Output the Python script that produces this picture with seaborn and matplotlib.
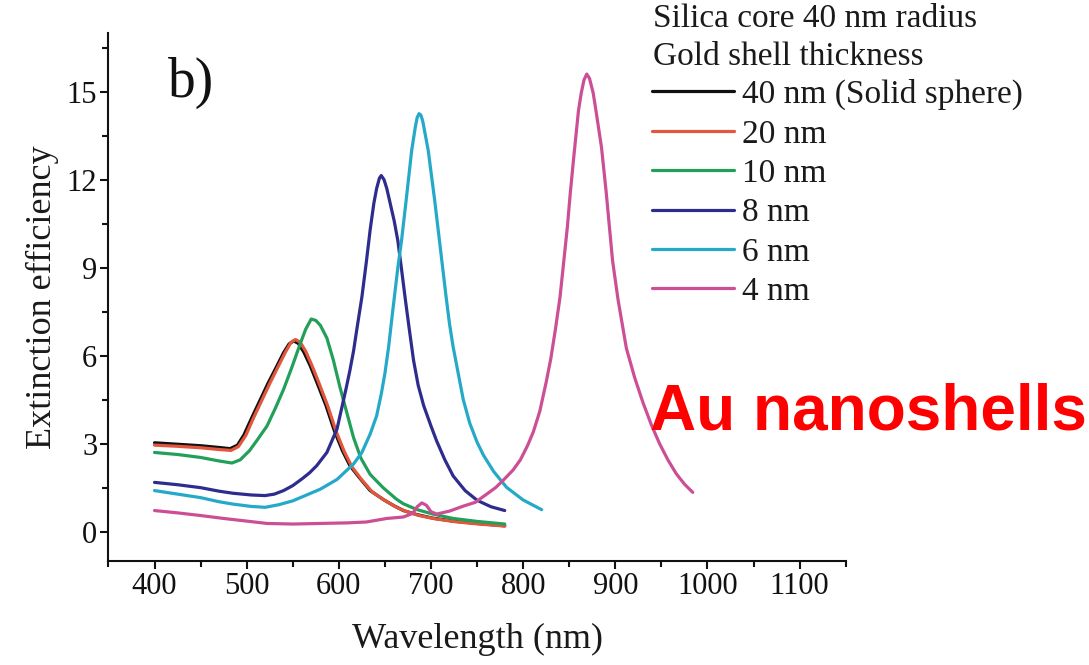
import numpy as np
import pandas as pd
import matplotlib
matplotlib.use("Agg")
import matplotlib.pyplot as plt
import seaborn as sns

# Extinction spectra (wavelength in nm, extinction efficiency)
wl_40 = [400, 425, 450, 470, 482, 490, 497, 505, 514, 523, 532, 540, 546, 551, 556, 562, 569, 576,
         586, 595, 604, 612, 622, 634, 648, 660, 670, 685, 702, 724, 750, 780]
ext_40 = [3.03, 2.98, 2.93, 2.87, 2.83, 2.95, 3.3, 3.85, 4.45, 5.05, 5.6, 6.1, 6.4, 6.5, 6.42, 6.12, 5.65, 5.1,
          4.3, 3.45, 2.75, 2.25, 1.85, 1.4, 1.1, 0.88, 0.72, 0.58, 0.46, 0.36, 0.28, 0.2]

wl_20 = [400, 425, 450, 470, 483, 491, 499, 507, 516, 525, 534, 542, 548, 553, 558, 564, 571, 578,
         588, 597, 606, 614, 624, 636, 650, 662, 672, 687, 704, 726, 752, 780]
ext_20 = [2.95, 2.91, 2.86, 2.8, 2.77, 2.9, 3.28, 3.85, 4.45, 5.05, 5.62, 6.12, 6.45, 6.55, 6.46, 6.15, 5.65, 5.1,
          4.28, 3.42, 2.72, 2.22, 1.8, 1.36, 1.06, 0.84, 0.7, 0.55, 0.44, 0.34, 0.26, 0.19]

wl_10 = [400, 425, 450, 470, 484, 493, 503, 512, 522, 531, 540, 549, 558, 564, 570, 575, 580, 587,
         594, 601, 608, 616, 624, 634, 648, 662, 670, 685, 702, 724, 750, 780]
ext_10 = [2.7, 2.63, 2.53, 2.41, 2.34, 2.45, 2.76, 3.15, 3.6, 4.2, 4.85, 5.6, 6.4, 6.9, 7.25, 7.2, 7.03, 6.6,
          5.85, 4.95, 4.13, 3.2, 2.5, 1.95, 1.5, 1.12, 0.95, 0.75, 0.6, 0.45, 0.35, 0.26]

wl_8 = [400, 425, 450, 470, 485, 505, 520, 530, 540, 550, 560, 568, 576, 587, 598, 608, 612, 616, 620,
        625, 630, 634, 638, 641, 644, 646, 649, 652, 655, 660, 664, 668, 672, 676, 681, 686, 692, 700,
        706, 715, 724, 737, 750, 765, 780]
ext_8 = [1.68, 1.6, 1.5, 1.38, 1.31, 1.25, 1.23, 1.28, 1.4, 1.57, 1.8, 2.0, 2.25, 2.7, 3.5, 4.9, 5.5, 6.17, 7.0,
         8.0, 9.24, 10.3, 11.2, 11.7, 12.05, 12.14, 12.0, 11.7, 11.29, 10.6, 9.92, 8.95, 7.95, 7.0, 5.85, 5.0, 4.3,
         3.6, 3.1, 2.45, 1.9, 1.4, 1.07, 0.85, 0.72]

wl_6 = [400, 425, 450, 470, 485, 505, 520, 535, 550, 565, 580, 598, 616, 625, 634, 641, 646, 650, 654,
        658, 661, 664, 668, 673, 679, 683, 685, 687, 689, 691, 697, 704, 710, 716, 720, 724, 735, 742,
        750, 757, 768, 782, 800, 820]
ext_6 = [1.4, 1.28, 1.16, 1.02, 0.94, 0.86, 0.83, 0.92, 1.05, 1.25, 1.45, 1.78, 2.31, 2.7, 3.33, 3.95, 4.69, 5.4,
         6.3, 7.4, 8.2, 9.0, 9.92, 11.29, 12.99, 13.8, 14.12, 14.25, 14.2, 14.0, 12.99, 11.29, 9.7, 8.1, 7.1, 6.3,
         4.5, 3.7, 3.05, 2.6, 2.05, 1.51, 1.08, 0.75]

wl_4 = [400, 425, 450, 475, 500, 522, 550, 580, 610, 630, 652, 670, 680, 685, 690, 695, 700, 706, 720,
        735, 748, 760, 770, 778, 789, 797, 805, 811, 818, 825, 830, 835, 840, 844, 848, 851, 855, 860,
        863, 866, 869, 872, 876, 879, 885, 890, 897, 903, 912, 921, 930, 939, 948, 957, 966, 975, 984]
ext_4 = [0.72, 0.64, 0.55, 0.45, 0.36, 0.28, 0.26, 0.28, 0.3, 0.33, 0.45, 0.5, 0.62, 0.85, 0.98, 0.9, 0.68, 0.6,
         0.7, 0.87, 1.0, 1.27, 1.5, 1.74, 2.1, 2.45, 2.95, 3.4, 4.1, 5.1, 5.9, 6.9, 8.0, 9.2, 10.4, 11.5, 12.8,
         14.35, 14.95, 15.4, 15.6, 15.45, 14.95, 14.35, 13.1, 11.6, 9.24, 7.9, 6.25, 5.25, 4.4, 3.65, 3.0, 2.45,
         1.98, 1.62, 1.34]

labels = ["40 nm (Solid sphere)", "20 nm", "10 nm", "8 nm", "6 nm", "4 nm"]
colors = ["#111111", "#e2563e", "#22a05a", "#2e2c8c", "#25a9c8", "#cc4f96"]
series = [(wl_40, ext_40), (wl_20, ext_20), (wl_10, ext_10), (wl_8, ext_8), (wl_6, ext_6), (wl_4, ext_4)]

sns.set_style("ticks")
plt.rcParams["font.family"] = ["Liberation Serif", "DejaVu Serif"]

fig = plt.figure(figsize=(10.89, 6.65), dpi=100)
ax = fig.add_axes([0.0996, 0.1564, 0.677, 0.794])

for (wl, ext), lab, col in zip(series, labels, colors):
    df = pd.DataFrame({"wl": wl, "ext": ext})
    sns.lineplot(data=df, x="wl", y="ext", ax=ax, color=col, lw=2.3, label=lab, sort=False)

ax.set_xlim(350, 1150)
ax.set_xticks(np.arange(400, 1101, 100))
ax.set_xticks(np.arange(350, 1151, 50), minor=True)
ax.set_yticks(np.arange(0, 16, 3))
ax.set_yticks(np.arange(-1.5, 17, 1.5), minor=True)
ax.set_ylim(-1, 17)
sns.despine(ax=ax)
for sp in ax.spines.values():
    sp.set_linewidth(1.5)
    sp.set_color("#111111")
ax.tick_params(which="major", length=6, width=1.5, labelsize=22, colors="#111111", pad=2)
ax.tick_params(which="minor", length=4, width=1.5, colors="#111111")
ax.set_xlabel("Wavelength (nm)", fontsize=26, color="#1a1a1a", labelpad=16)
ax.set_ylabel("Extinction efficiency", fontsize=26, color="#1a1a1a", labelpad=6)

txt_kw = dict(fontsize=24, color="#1a1a1a", va="baseline")
fig.text(653 / 1089, 1 - 27 / 665, "Silica core 40 nm radius", **txt_kw)
fig.text(653 / 1089, 1 - 65 / 665, "Gold shell thickness", **txt_kw)

leg = ax.legend(loc="upper left", bbox_to_anchor=(652 / 1089, 1 - 79 / 665),
                bbox_transform=fig.transFigure, frameon=False, fontsize=24,
                handlelength=2.45, handletextpad=0.25, labelspacing=0.265,
                borderpad=0, borderaxespad=0)
for t in leg.get_texts():
    t.set_color("#1a1a1a")

fig.text(168 / 1089, 1 - 97 / 665, "b)", fontsize=40, color="#111111", va="baseline")
fig.text(650 / 1089, 1 - 430 / 665, "Au nanoshells", fontsize=46, color="#ff0000",
         fontweight="bold", family=["Liberation Sans", "DejaVu Sans"], va="baseline")

fig.savefig("out.png", dpi=100)
